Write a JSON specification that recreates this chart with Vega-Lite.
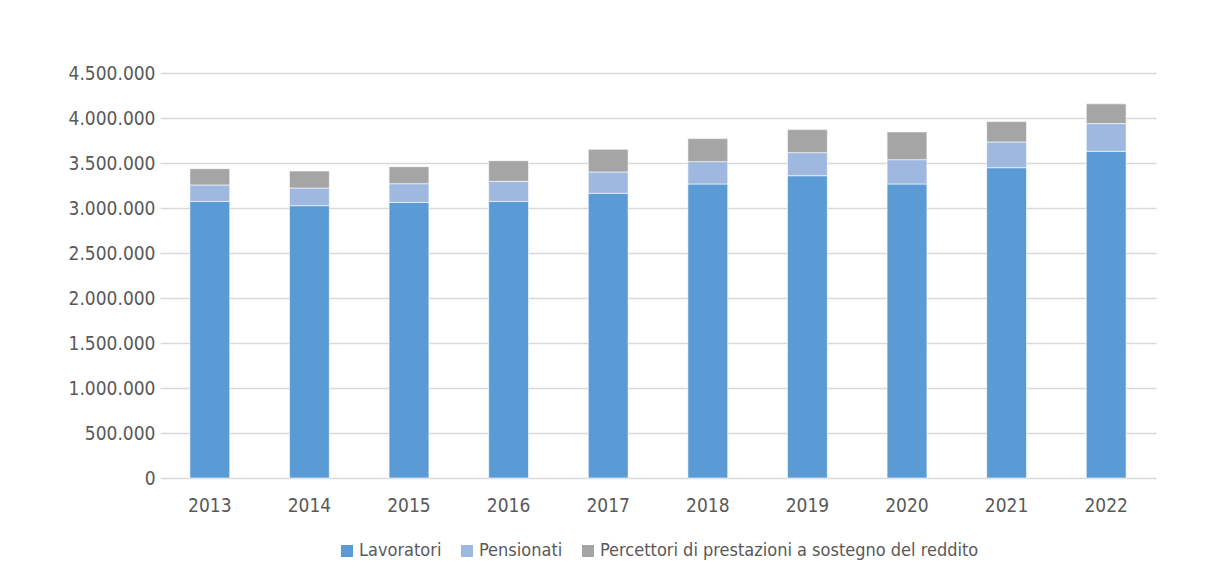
{
  "$schema": "https://vega.github.io/schema/vega-lite/v6.json",
  "width": 996,
  "height": 405,
  "autosize": {"type": "none"},
  "padding": {"left": 160, "top": 73, "right": 49, "bottom": 94},
  "background": "#ffffff",
  "data": {
    "values": [
      {"anno": "2013", "categoria": "Lavoratori", "valore": 3073000},
      {"anno": "2013", "categoria": "Pensionati", "valore": 183000},
      {"anno": "2013", "categoria": "Percettori di prestazioni a sostegno del reddito", "valore": 181000},
      {"anno": "2014", "categoria": "Lavoratori", "valore": 3026000},
      {"anno": "2014", "categoria": "Pensionati", "valore": 196000},
      {"anno": "2014", "categoria": "Percettori di prestazioni a sostegno del reddito", "valore": 189000},
      {"anno": "2015", "categoria": "Lavoratori", "valore": 3062000},
      {"anno": "2015", "categoria": "Pensionati", "valore": 208000},
      {"anno": "2015", "categoria": "Percettori di prestazioni a sostegno del reddito", "valore": 189000},
      {"anno": "2016", "categoria": "Lavoratori", "valore": 3073000},
      {"anno": "2016", "categoria": "Pensionati", "valore": 223000},
      {"anno": "2016", "categoria": "Percettori di prestazioni a sostegno del reddito", "valore": 230000},
      {"anno": "2017", "categoria": "Lavoratori", "valore": 3163000},
      {"anno": "2017", "categoria": "Pensionati", "valore": 237000},
      {"anno": "2017", "categoria": "Percettori di prestazioni a sostegno del reddito", "valore": 252000},
      {"anno": "2018", "categoria": "Lavoratori", "valore": 3267000},
      {"anno": "2018", "categoria": "Pensionati", "valore": 248000},
      {"anno": "2018", "categoria": "Percettori di prestazioni a sostegno del reddito", "valore": 256000},
      {"anno": "2019", "categoria": "Lavoratori", "valore": 3359000},
      {"anno": "2019", "categoria": "Pensionati", "valore": 256000},
      {"anno": "2019", "categoria": "Percettori di prestazioni a sostegno del reddito", "valore": 256000},
      {"anno": "2020", "categoria": "Lavoratori", "valore": 3267000},
      {"anno": "2020", "categoria": "Pensionati", "valore": 270000},
      {"anno": "2020", "categoria": "Percettori di prestazioni a sostegno del reddito", "valore": 308000},
      {"anno": "2021", "categoria": "Lavoratori", "valore": 3448000},
      {"anno": "2021", "categoria": "Pensionati", "valore": 286000},
      {"anno": "2021", "categoria": "Percettori di prestazioni a sostegno del reddito", "valore": 226000},
      {"anno": "2022", "categoria": "Lavoratori", "valore": 3630000},
      {"anno": "2022", "categoria": "Pensionati", "valore": 308000},
      {"anno": "2022", "categoria": "Percettori di prestazioni a sostegno del reddito", "valore": 219000}
    ]
  },
  "mark": {"type": "bar", "stroke": "#ffffff", "strokeWidth": 0.6},
  "encoding": {
    "x": {
      "field": "anno",
      "type": "nominal",
      "scale": {"paddingInner": 0.6, "paddingOuter": 0.3},
      "axis": {
        "title": null,
        "labelAngle": 0,
        "ticks": false,
        "domain": false,
        "labelPadding": 18,
        "grid": false
      }
    },
    "y": {
      "field": "valore",
      "type": "quantitative",
      "stack": "zero",
      "scale": {"domain": [0, 4500000], "nice": false},
      "axis": {
        "title": null,
        "values": [0, 500000, 1000000, 1500000, 2000000, 2500000, 3000000, 3500000, 4000000, 4500000],
        "format": ",d",
        "ticks": false,
        "domain": false,
        "labelPadding": 5,
        "grid": true,
        "gridColor": "#d9d9d9",
        "gridWidth": 1.3
      }
    },
    "order": {"field": "categoria", "sort": "ascending"},
    "color": {
      "field": "categoria",
      "type": "nominal",
      "sort": ["Lavoratori", "Pensionati", "Percettori di prestazioni a sostegno del reddito"],
      "scale": {
        "domain": ["Lavoratori", "Pensionati", "Percettori di prestazioni a sostegno del reddito"],
        "range": ["#5b9bd5", "#9eb8df", "#a5a5a5"]
      },
      "legend": {
        "title": null,
        "orient": "bottom",
        "direction": "horizontal",
        "symbolType": "square",
        "symbolSize": 144,
        "symbolStrokeWidth": 0,
        "labelOffset": 3,
        "columnPadding": 16,
        "offset": 27
      }
    }
  },
  "config": {
    "locale": {
      "number": {"decimal": ",", "thousands": ".", "grouping": [3], "currency": ["€", ""]}
    },
    "view": {"stroke": null},
    "font": "DejaVu Sans Condensed, DejaVu Sans, sans-serif",
    "axis": {
      "labelFont": "DejaVu Sans Condensed, DejaVu Sans, sans-serif",
      "labelFontSize": 19,
      "labelColor": "#595959"
    },
    "legend": {
      "labelFont": "DejaVu Sans Condensed, DejaVu Sans, sans-serif",
      "labelFontSize": 18,
      "labelColor": "#595959",
      "labelLimit": 0,
      "layout": {"bottom": {"anchor": "middle"}}
    }
  }
}
